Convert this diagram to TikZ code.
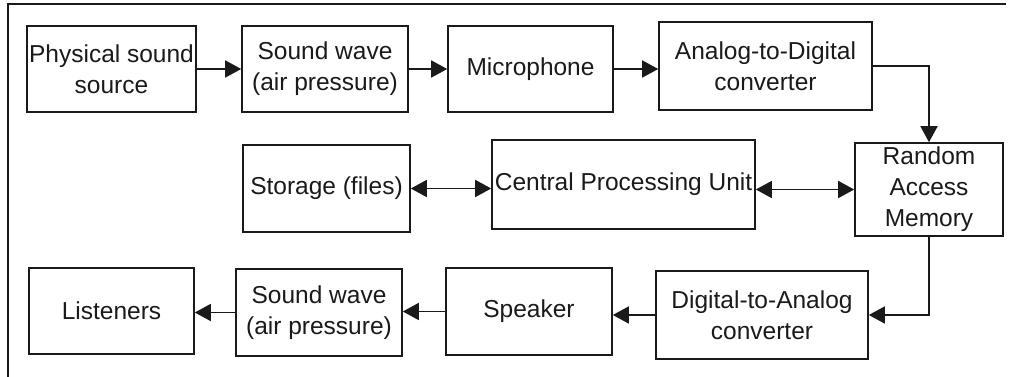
\documentclass[tikz,border=0pt]{standalone}
\usepackage{fontspec}
\setmainfont{Liberation Sans}
\usepackage{tikz}
\usetikzlibrary{arrows.meta,calc,positioning}
\definecolor{BoxBlack}{HTML}{1A1A1A}

\begin{document}
\begin{tikzpicture}[x=1pt, y=-1pt,
  blk/.style={draw=BoxBlack, line width=1.6pt, rectangle, align=center, inner sep=0pt,
    font=\fontsize{24.5}{31}\selectfont, text=BoxBlack},
  flow/.style={draw=BoxBlack, line width=1.6pt,
    arrows={-Triangle[length=16pt,width=17pt]}},
  both/.style={draw=BoxBlack, line width=1.6pt,
    arrows={Triangle[length=16pt,width=17pt]-Triangle[length=16pt,width=17pt]}}]
\useasboundingbox (0,0) rectangle (1011,377);

% frame
\draw[BoxBlack, line width=1.8pt] (1006,4) -- (8,4) -- (8,377);

% recording chain
\node[blk, minimum width=169, minimum height=86] (src) at (111.5,69) {Physical sound\\source};
\node[blk, minimum width=166, minimum height=86] (wavein) at (325,69) {Sound wave\\(air pressure)};
\node[blk, minimum width=165, minimum height=86] (mic) at (530.5,69) {Microphone};
\node[blk, minimum width=213, minimum height=88] (adc) at (765.5,66) {Analog-to-Digital\\converter};

% computer
\node[blk, minimum width=148, minimum height=93] (ram) at (929,189.5) {Random\\Access\\Memory};
\node[blk, minimum width=263, minimum height=89] (cpu) at (623.5,184.5) {Central Processing Unit};
\node[blk, minimum width=167, minimum height=87] (store) at (326.5,188.5) {Storage (files)};

% playback chain
\node[blk, minimum width=212, minimum height=88] (dac) at (762,315) {Digital-to-Analog\\converter};
\node[blk, minimum width=166, minimum height=87] (spk) at (529,311.5) {Speaker};
\node[blk, minimum width=166, minimum height=87] (waveout) at (319,312.5) {Sound wave\\(air pressure)};
\node[blk, minimum width=165, minimum height=86] (lis) at (111.5,311) {Listeners};

\draw[flow] (src.east) -- (wavein.west);
\draw[flow] (wavein.east) -- (mic.west);
\draw[flow] (mic.east) -- (mic.east -| adc.west);
\draw[flow] (adc.east) -| (ram.north);

\draw[both] (store.east) -- (store.east -| cpu.west);
\draw[both] (ram.west -| cpu.east) -- (ram.west);

\draw[flow] (ram.south) |- (dac.east);
\draw[flow] (dac.west) -- (dac.west -| spk.east);
\draw[flow] (spk.west) -- (spk.west -| waveout.east);
\draw[flow] (waveout.west) -- (waveout.west -| lis.east);

\end{tikzpicture}
\end{document}
